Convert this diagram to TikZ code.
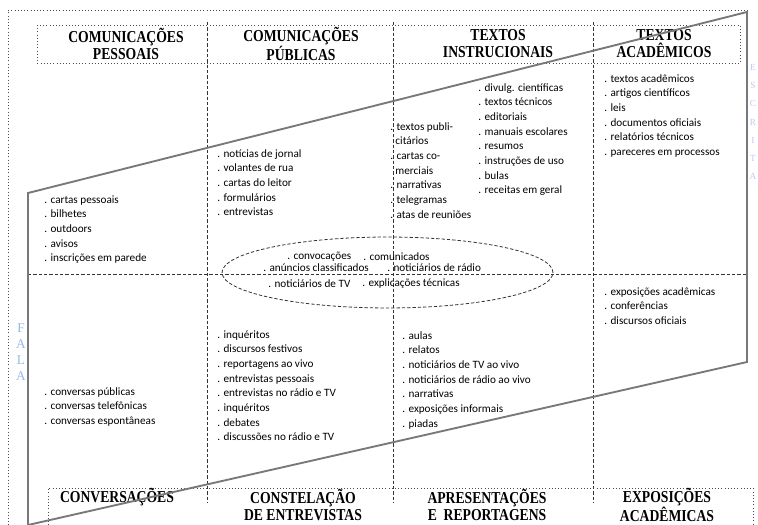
\documentclass[tikz,border=0pt]{standalone}
\usepackage{fontspec}
\setmainfont{Liberation Serif}
\newfontfamily\listfont{Carlito}
\newfontface\headfont[FakeStretch=0.82]{Liberation Serif Bold}
\usetikzlibrary{positioning}
\definecolor{framegray}{RGB}{120,120,120}
\definecolor{falablue}{RGB}{150,185,235}

\begin{document}
\begin{tikzpicture}[x=0.75pt,y=-0.75pt,
                    every node/.style={inner sep=0pt},
                    semithick]
  \tikzstyle{head}=[font=\headfont\fontsize{12.5}{12.8}\selectfont,align=center]
  \tikzstyle{items}=[font=\listfont\fontsize{8.4}{11}\selectfont,align=left,anchor=north west]
  \tikzstyle{oval item}=[font=\listfont\fontsize{8.4}{11}\selectfont,anchor=west]
  \tikzstyle{divider}=[dash pattern=on 2.5pt off 1.5pt,line width=0.6pt,black!80]
  \tikzstyle{frame}=[dotted,line width=0.4pt,black!70]
  \tikzstyle{side}=[font=\fontsize{10}{12}\selectfont,text=falablue,align=center]

  \useasboundingbox (0,0) rectangle (758,525);

  % frames and grid
  \draw[frame] (8,525) -- (8,10) -- (750,10);
  \draw[frame] (37,25) rectangle (740,63);
  \draw[frame] (48,525) -- (48,488) -- (753,488) -- (753,525);
  \foreach \x in {207,393,593}
    \draw[divider] (\x,22) -- (\x,503);
  \draw[divider] (28,274) -- (747,274);
  \draw[divider] (387.5,272.5) ellipse [x radius=124.1pt, y radius=26.6pt];

  % headers
  \node[head] (cpess) at (126,44)  {COMUNICAÇÕES\\PESSOAIS};
  \node[head] (cpub)  at (301,44)  {COMUNICAÇÕES\\PÚBLICAS};
  \node[head] (tinst) at (498,44)  {TEXTOS\\INSTRUCIONAIS};
  \node[head] (tacad) at (664,44)  {TEXTOS\\ACADÊMICOS};
  \node[head] (conv)  at (117,497) {CONVERSAÇÕES};
  \node[head] (const) at (303,505) {CONSTELAÇÃO\\DE ENTREVISTAS};
  \node[head] (apres) at (487,505) {APRESENTAÇÕES\\E\ \ REPORTAGENS};
  \node[head] (expos) at (667,505) {EXPOSIÇÕES\\ACADÊMICAS};

  % writing
  \node[items] (pess) at (44,195)  {. cartas pessoais\\. bilhetes\\. outdoors\\. avisos\\. inscrições em parede};
  \node[items] (pub)  at (217,149) {. notícias de jornal\\. volantes de rua\\. cartas do leitor\\. formulários\\. entrevistas};
  \node[items] (inst) at (390,122) {. textos publi-\\\ \ citários\\. cartas co-\\\ \ merciais\\. narrativas\\. telegramas\\. atas de reuniões};
  \node[items] (divu) at (478,83)  {. divulg. científicas\\. textos técnicos\\. editoriais\\. manuais escolares\\. resumos\\. instruções de uso\\. bulas\\. receitas em geral};
  \node[items] (acad) at (604,74)  {. textos acadêmicos\\. artigos científicos\\. leis\\. documentos oficiais\\. relatórios técnicos\\. pareceres em processos};

  % inside the oval
  \node[oval item] (convoc) at (287,257) {. convocações};
  \node[oval item] (comun)  at (363,257) {. comunicados};
  \node[oval item] (anunc)  at (263,268) {. anúncios classificados};
  \node[oval item] (radio)  at (387,268) {. noticiários de rádio};
  \node[oval item] (tv)     at (268,284) {. noticiários de TV};
  \node[oval item] (expl)   at (362,284) {. explicações técnicas};

  % speech
  \node[items] (fconv) at (44,387)  {. conversas públicas\\. conversas telefônicas\\. conversas espontâneas};
  \node[items] (fentr) at (217,330) {. inquéritos\\. discursos festivos\\. reportagens ao vivo\\. entrevistas pessoais\\. entrevistas no rádio e TV\\. inquéritos\\. debates\\. discussões no rádio e TV};
  \node[items] (frep)  at (402,331) {. aulas\\. relatos\\. noticiários de TV ao vivo\\. noticiários de rádio ao vivo\\. narrativas\\. exposições informais\\. piadas};
  \node[items] (fexp)  at (604,287) {. exposições acadêmicas\\. conferências\\. discursos oficiais};

  \node[side] (fala)    at (21,352)  {F\\A\\L\\A};
  \node[side,font=\fontsize{7}{13.6}\selectfont,text=falablue!70] (escrita) at (753,122) {E\\S\\C\\R\\I\\T\\A};

  % the slanted band
  \draw[framegray,line width=1.4pt] (28,525) -- (28,193) -- (747,12) -- (747,362) -- (28,525);
\end{tikzpicture}
\end{document}
